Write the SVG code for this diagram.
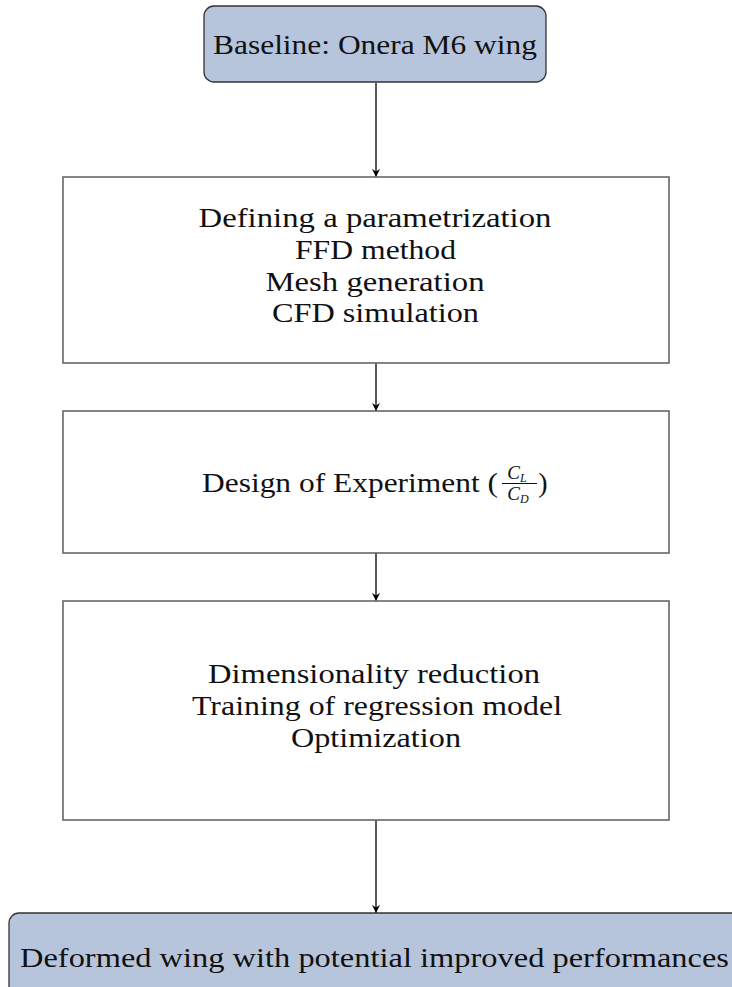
<svg xmlns="http://www.w3.org/2000/svg" width="732" height="987" viewBox="0 0 732 987">
<defs>
<marker id="ah" viewBox="0 0 10 10" refX="10" refY="5" markerWidth="8" markerHeight="8" markerUnits="userSpaceOnUse" orient="auto">
<path d="M0,0 L10,5 L0,10 L3,5 Z" fill="#000"/>
</marker>
</defs>
<style>
.term{fill:#b7c5dc;stroke:#333;stroke-width:1.3}
.proc{fill:#fff;stroke:#666;stroke-width:1.6}
text{font-family:"Liberation Serif","DejaVu Serif",serif;font-size:28px;fill:#111;text-anchor:middle}
.sub{font-size:19px;font-style:italic}
.conn{stroke:#000;stroke-width:1.3;fill:none;marker-end:url(#ah)}
</style>
<rect width="732" height="987" fill="#fff"/>
<g id="connectors">
<line class="conn" x1="376" y1="83" x2="376" y2="177"/>
<line class="conn" x1="376" y1="363" x2="376" y2="411"/>
<line class="conn" x1="376" y1="553" x2="376" y2="601"/>
<line class="conn" x1="376" y1="820" x2="376" y2="913"/>
</g>
<g id="baseline">
<rect class="term" x="204" y="6" width="342" height="76" rx="10"/>
<text x="375" y="54" textLength="324" lengthAdjust="spacingAndGlyphs">Baseline: Onera M6 wing</text>
</g>
<g id="parametrization">
<rect class="proc" x="63" y="177" width="606" height="186"/>
<text x="375" y="227" textLength="353" lengthAdjust="spacingAndGlyphs">Defining a parametrization</text>
<text x="375.5" y="259" textLength="161" lengthAdjust="spacingAndGlyphs">FFD method</text>
<text x="375" y="291" textLength="219" lengthAdjust="spacingAndGlyphs">Mesh generation</text>
<text x="375.5" y="322" textLength="207" lengthAdjust="spacingAndGlyphs">CFD simulation</text>
</g>
<g id="doe">
<rect class="proc" x="63" y="411" width="606" height="142"/>
<text x="350" y="492" textLength="296" lengthAdjust="spacingAndGlyphs">Design of Experiment (</text>
<text class="sub" x="517" y="479">C<tspan font-size="12" dy="3">L</tspan></text>
<line x1="502" y1="483.5" x2="537" y2="483.5" stroke="#111" stroke-width="1"/>
<text class="sub" x="518" y="500">C<tspan font-size="12" dy="3">D</tspan></text>
<text x="543" y="492">)</text>
</g>
<g id="reduction">
<rect class="proc" x="63" y="601" width="606" height="219"/>
<text x="374" y="683" textLength="332" lengthAdjust="spacingAndGlyphs">Dimensionality reduction</text>
<text x="377" y="715" textLength="370" lengthAdjust="spacingAndGlyphs">Training of regression model</text>
<text x="376" y="747" textLength="170" lengthAdjust="spacingAndGlyphs">Optimization</text>
</g>
<g id="deformed">
<rect class="term" x="9" y="913" width="740" height="90" rx="10"/>
<text x="374.5" y="967" textLength="709" lengthAdjust="spacingAndGlyphs">Deformed wing with potential improved performances</text>
</g>
</svg>
